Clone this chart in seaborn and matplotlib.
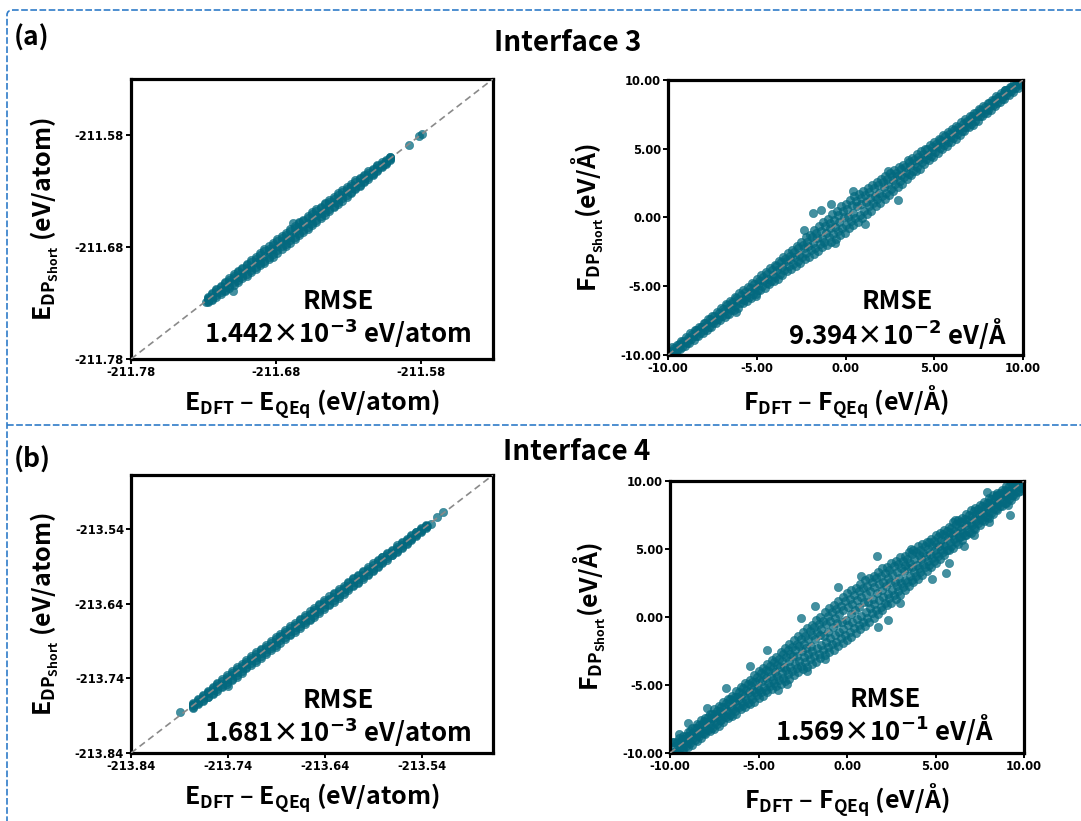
import numpy as np
import pandas as pd
import matplotlib
matplotlib.use("Agg")
import matplotlib.pyplot as plt
import seaborn as sns
from matplotlib.patches import FancyBboxPatch
from matplotlib.lines import Line2D

# ---------------- data ----------------
# Interface 3, energy (eV/atom): reference values and DP deviations (meV)
e3_x = [-211.727, -211.724, -211.721, -211.718, -211.715, -211.712, -211.709, -211.706, -211.703, -211.700,
        -211.697, -211.694, -211.691, -211.688, -211.685, -211.682, -211.679, -211.676, -211.673, -211.670,
        -211.667, -211.664, -211.661, -211.658, -211.655, -211.652, -211.649, -211.646, -211.643, -211.640,
        -211.637, -211.634, -211.631, -211.628, -211.625, -211.622, -211.619, -211.616, -211.613, -211.610,
        -211.607, -211.604, -211.601]
e3_dev_mid_meV = [0.5, -0.5, 1.0, 0.0, -1.0, 0.5, 1.0, -0.5, 0.0, 1.0, -0.5, 0.5, -1.0, 0.0, 1.0, 0.5, -0.5, 1.0, 0.0, -1.0,
                  0.5, 1.5, 0.0, -0.5, 1.0, 0.5, -1.0, 0.0, 1.0, 0.5, -0.5, 0.0, 1.0, 0.5, -0.5, 0.0, 0.5, 0.0, -0.5, 0.5,
                  0.0, 0.0, 0.5]
e3_dev_upin_meV = [1.5, 2.0, 2.5, 2.0, 3.0, 2.5, 3.0, 3.5, 3.0, 3.5, 4.0, 3.5, 4.0, 4.5, 3.5, 4.0, 4.5, 4.0, 3.5, 4.5,
                   4.0, 5.0, 4.0, 3.5, 4.5, 4.0, 3.5, 4.0, 3.5, 3.0, 3.5, 3.0, 3.0, 2.5, 3.0, 2.5, 2.0, 2.0, 1.5, 2.0,
                   1.5, 1.0, 1.0]
e3_dev_lowin_meV = [-1.5, -2.0, -2.0, -2.5, -3.0, -3.0, -2.5, -3.5, -3.0, -4.0, -3.5, -4.0, -3.5, -4.5, -4.0, -4.5, -4.0, -3.5, -4.5, -4.0,
                    -4.5, -3.5, -4.0, -4.5, -3.5, -4.0, -3.5, -3.0, -3.5, -3.0, -3.0, -2.5, -3.0, -2.5, -2.0, -2.5, -2.0, -1.5, -2.0, -1.5,
                    -1.0, -1.0, -0.5]
e3_dev_up_meV = [2.5, 3.0, 3.5, 3.5, 4.0, 4.0, 4.5, 5.0, 4.5, 5.0, 5.5, 5.0, 5.5, 6.0, 5.5, 6.0, 6.0, 5.5, 5.5, 6.0,
                 5.5, 6.5, 5.5, 5.5, 6.0, 5.5, 5.0, 5.5, 5.0, 5.0, 5.0, 4.5, 4.5, 4.0, 4.5, 4.0, 3.5, 3.5, 3.0, 3.0,
                 2.5, 2.0, 1.5]
e3_dev_low_meV = [-2.5, -3.0, -3.5, -4.0, -4.0, -4.5, -4.5, -5.0, -5.0, -5.5, -5.5, -6.0, -5.5, -6.0, -6.0, -6.5, -6.0, -5.5, -6.0, -6.0,
                  -6.0, -5.5, -6.0, -6.0, -5.5, -5.5, -5.0, -5.0, -5.0, -4.5, -4.5, -4.5, -4.0, -4.0, -3.5, -3.5, -3.0, -3.0, -2.5, -2.5,
                  -2.0, -1.5, -1.0]
e3_out_x = [-211.588, -211.581, -211.579, -211.7097, -211.6684, -211.728]
e3_out_y = [-211.5885, -211.5805, -211.5790, -211.7190, -211.6586, -211.7288]

# Interface 4, energy (eV/atom)
e4_x = [-213.776, -213.771, -213.766, -213.761, -213.756, -213.751, -213.746, -213.741, -213.736, -213.731,
        -213.726, -213.721, -213.716, -213.711, -213.706, -213.701, -213.696, -213.691, -213.686, -213.681,
        -213.676, -213.671, -213.666, -213.661, -213.656, -213.651, -213.646, -213.641, -213.636, -213.631,
        -213.626, -213.621, -213.616, -213.611, -213.606, -213.601, -213.596, -213.591, -213.586, -213.581,
        -213.576, -213.571, -213.566, -213.561, -213.556, -213.551, -213.546, -213.541, -213.536]
e4_dev_mid_meV = [0.5, 0.0, -0.5, 1.0, 0.0, 0.5, -1.0, 0.5, 1.0, 0.0, -0.5, 0.5, 1.0, -0.5, 0.0, 0.5, -1.0, 0.0, 1.0, 0.5,
                  -0.5, 0.0, 1.0, -0.5, 0.5, 0.0, -1.0, 0.5, 1.0, 0.0, -0.5, 0.5, 0.0, 1.0, -0.5, 0.0, 0.5, -0.5, 1.0, 0.0,
                  0.5, -0.5, 0.0, 0.5, 1.0, 0.0, -0.5, 0.5, 0.0]
e4_dev_upin_meV = [2.0, 2.5, 3.0, 2.5, 3.0, 3.5, 3.0, 3.5, 4.0, 3.5, 3.0, 3.5, 4.0, 3.5, 4.0, 3.5, 3.0, 4.0, 3.5, 4.0,
                   3.5, 3.0, 4.0, 3.5, 3.0, 3.5, 4.0, 3.5, 3.0, 4.0, 3.5, 3.0, 3.5, 4.0, 3.0, 3.5, 3.0, 3.5, 3.0, 3.5,
                   3.0, 2.5, 3.0, 2.5, 2.0, 2.5, 2.0, 1.5, 1.0]
e4_dev_lowin_meV = [-2.0, -2.5, -3.0, -3.5, -3.0, -3.5, -4.0, -3.5, -4.5, -4.0, -3.5, -3.0, -3.5, -4.0, -3.5, -3.0, -3.5, -4.0, -3.0, -3.5,
                    -4.0, -3.5, -3.0, -3.5, -4.0, -3.5, -3.0, -3.5, -4.0, -3.5, -3.0, -3.5, -3.0, -3.5, -4.0, -3.0, -3.5, -3.0, -3.5, -3.0,
                    -2.5, -3.0, -2.5, -2.0, -2.5, -2.0, -1.5, -1.0, -1.0]
e4_dev_up_meV = [3.0, 3.5, 4.0, 4.5, 5.0, 5.0, 5.5, 5.5, 6.0, 6.0, 5.5, 6.0, 6.5, 6.0, 5.5, 6.0, 6.5, 6.0, 5.5, 6.0,
                 6.5, 6.0, 5.5, 6.0, 6.5, 6.0, 5.5, 6.0, 6.0, 5.5, 6.0, 5.5, 6.0, 5.5, 5.0, 5.5, 5.0, 5.5, 5.0, 4.5,
                 4.5, 4.0, 4.5, 4.0, 3.5, 3.0, 3.0, 2.5, 2.0]
e4_dev_low_meV = [-3.0, -3.5, -4.5, -4.5, -5.0, -5.5, -5.5, -6.0, -6.0, -6.5, -6.0, -5.5, -6.0, -6.5, -6.0, -5.5, -6.0, -6.5, -6.0, -5.5,
                  -6.0, -6.5, -6.0, -5.5, -6.0, -6.5, -6.0, -5.5, -6.0, -6.0, -5.5, -6.0, -5.5, -5.5, -6.0, -5.0, -5.5, -5.0, -5.0, -4.5,
                  -4.5, -4.0, -4.0, -3.5, -3.5, -3.0, -2.5, -2.0, -1.5]
e4_out_x = [-213.7896, -213.7766, -213.519, -213.5252, -213.531, -213.535, -213.740]
e4_out_y = [-213.785, -213.7754, -213.5166, -213.5228, -213.533, -213.536, -213.7498]

# Interface 3, force (eV/Å): stations, per-row shifts and residuals (F_DP - F_ref)
f3_x = [-9.75, -9.25, -8.75, -8.25, -7.75, -7.25, -6.75, -6.25, -5.75, -5.25,
        -4.75, -4.25, -3.75, -3.25, -2.75, -2.25, -1.75, -1.25, -0.75, -0.25,
        0.25, 0.75, 1.25, 1.75, 2.25, 2.75, 3.25, 3.75, 4.25, 4.75,
        5.25, 5.75, 6.25, 6.75, 7.25, 7.75, 8.25, 8.75, 9.25, 9.75]
f3_shift = [0.0, 0.2, 0.1, 0.3, 0.4, 0.25, 0.45, 0.35, 0.05, 0.15]
f3_res_a = [0.05, -0.05, 0.1, 0.0, -0.1, 0.05, 0.1, -0.05, 0.0, 0.1, -0.1, 0.05, 0.15, -0.05, 0.1, 0.0, -0.15, 0.1, 0.05, -0.1,
            0.15, 0.0, -0.1, 0.1, 0.05, -0.05, 0.1, 0.0, -0.1, 0.05, 0.0, 0.1, -0.05, 0.05, 0.0, -0.05, 0.1, 0.0, 0.05, 0.0]
f3_res_b = [0.15, 0.2, 0.2, 0.15, 0.25, 0.2, 0.25, 0.3, 0.25, 0.3, 0.35, 0.3, 0.4, 0.35, 0.45, 0.4, 0.5, 0.55, 0.5, 0.6,
            0.55, 0.6, 0.5, 0.5, 0.45, 0.4, 0.35, 0.35, 0.3, 0.3, 0.3, 0.25, 0.25, 0.2, 0.25, 0.2, 0.2, 0.15, 0.15, 0.1]
f3_res_c = [-0.15, -0.15, -0.2, -0.2, -0.2, -0.25, -0.25, -0.3, -0.3, -0.3, -0.35, -0.35, -0.35, -0.4, -0.4, -0.45, -0.5, -0.5, -0.55, -0.6,
            -0.6, -0.55, -0.5, -0.5, -0.45, -0.4, -0.4, -0.35, -0.3, -0.3, -0.3, -0.25, -0.25, -0.25, -0.2, -0.2, -0.2, -0.15, -0.15, -0.1]
f3_res_d = [0.3, 0.25, 0.35, 0.3, 0.4, 0.35, 0.45, 0.45, 0.5, 0.5, 0.55, 0.6, 0.6, 0.7, 0.7, 0.8, 0.85, 0.95, 1.0, 1.05,
            1.0, 0.95, 0.9, 0.85, 0.75, 0.7, 0.6, 0.55, 0.55, 0.5, 0.45, 0.45, 0.4, 0.4, 0.35, 0.35, 0.3, 0.3, 0.25, 0.2]
f3_res_e = [-0.3, -0.3, -0.35, -0.35, -0.4, -0.4, -0.45, -0.5, -0.5, -0.55, -0.6, -0.6, -0.65, -0.7, -0.75, -0.8, -0.9, -0.95, -1.0, -1.05,
            -1.0, -1.0, -0.95, -0.9, -0.8, -0.7, -0.65, -0.6, -0.55, -0.55, -0.5, -0.45, -0.45, -0.4, -0.4, -0.35, -0.35, -0.3, -0.3, -0.25]
f3_res_a2 = [-0.05, 0.05, 0.0, 0.1, 0.0, -0.05, 0.0, 0.1, -0.1, 0.0, 0.05, -0.1, 0.0, 0.1, -0.1, 0.05, 0.1, -0.05, -0.1, 0.1,
             -0.05, 0.1, 0.05, -0.1, 0.0, 0.1, -0.1, 0.05, 0.0, -0.05, 0.1, -0.05, 0.0, 0.05, -0.05, 0.0, 0.05, -0.05, 0.0, 0.05]
f3_res_b2 = [0.2, 0.15, 0.2, 0.2, 0.2, 0.25, 0.25, 0.25, 0.3, 0.3, 0.3, 0.35, 0.35, 0.4, 0.4, 0.45, 0.45, 0.5, 0.55, 0.55,
             0.6, 0.55, 0.55, 0.45, 0.45, 0.4, 0.4, 0.3, 0.35, 0.25, 0.3, 0.25, 0.2, 0.25, 0.2, 0.2, 0.15, 0.2, 0.1, 0.15]
f3_res_c2 = [-0.1, -0.2, -0.15, -0.2, -0.25, -0.2, -0.3, -0.25, -0.3, -0.35, -0.3, -0.4, -0.4, -0.35, -0.45, -0.4, -0.5, -0.55, -0.5, -0.55,
             -0.55, -0.6, -0.45, -0.45, -0.5, -0.35, -0.35, -0.4, -0.3, -0.35, -0.25, -0.3, -0.2, -0.25, -0.25, -0.2, -0.15, -0.2, -0.1, -0.15]
f3_res_d2 = [0.25, 0.3, 0.3, 0.35, 0.35, 0.4, 0.4, 0.5, 0.45, 0.55, 0.5, 0.55, 0.65, 0.65, 0.75, 0.75, 0.9, 0.9, 0.95, 1.0,
             1.05, 0.9, 0.85, 0.8, 0.7, 0.65, 0.65, 0.6, 0.5, 0.5, 0.5, 0.4, 0.45, 0.35, 0.4, 0.3, 0.3, 0.25, 0.25, 0.2]
f3_res_e2 = [-0.25, -0.35, -0.3, -0.4, -0.35, -0.45, -0.45, -0.45, -0.55, -0.5, -0.55, -0.65, -0.6, -0.75, -0.7, -0.85, -0.85, -1.0, -0.95, -1.0,
             -1.05, -0.95, -0.9, -0.85, -0.75, -0.75, -0.6, -0.65, -0.55, -0.5, -0.5, -0.5, -0.4, -0.45, -0.35, -0.4, -0.3, -0.3, -0.25, -0.25]
f3_out_x = [-1.83, -1.36, -0.84, 0.42, -2.34, 2.96, 1.08, -0.61, 2.39, -5.02, -6.19, 8.97, -9.8]
f3_out_y = [0.32, 0.56, 1.00, 1.90, -0.90, 1.29, -0.49, -1.82, 3.35, -5.70, -6.84, 9.30, -9.7]

# Interface 4, force (eV/Å)
f4_x = f3_x
f4_shift = [0.0, 0.25, 0.15, 0.4, 0.05, 0.3, 0.2, 0.25, 0.0, 0.4, 0.15, 0.3, 0.05, 0.45]
f4_res_0 = [0.1, -0.1, 0.05, -0.05, 0.15, 0.0, -0.1, 0.1, 0.05, -0.15, 0.1, 0.0, -0.1, 0.15, 0.05, -0.1, 0.2, -0.05, 0.1, -0.15,
            0.05, 0.15, -0.1, 0.0, 0.1, -0.05, 0.15, -0.1, 0.05, 0.0, -0.1, 0.1, 0.0, -0.05, 0.1, 0.05, -0.1, 0.0, 0.1, -0.05]
f4_res_1 = [0.2, 0.25, 0.2, 0.3, 0.25, 0.3, 0.3, 0.35, 0.35, 0.4, 0.4, 0.45, 0.45, 0.5, 0.55, 0.55, 0.6, 0.65, 0.6, 0.7,
            0.65, 0.7, 0.6, 0.6, 0.55, 0.5, 0.5, 0.45, 0.4, 0.4, 0.35, 0.35, 0.35, 0.3, 0.3, 0.3, 0.25, 0.25, 0.2, 0.2]
f4_res_2 = [-0.2, -0.2, -0.25, -0.25, -0.3, -0.3, -0.3, -0.3, -0.35, -0.4, -0.4, -0.4, -0.45, -0.5, -0.5, -0.55, -0.6, -0.6, -0.65, -0.65,
            -0.7, -0.65, -0.6, -0.6, -0.55, -0.55, -0.5, -0.45, -0.45, -0.4, -0.35, -0.35, -0.35, -0.3, -0.3, -0.3, -0.25, -0.25, -0.25, -0.2]
f4_res_3 = [0.4, 0.35, 0.45, 0.45, 0.5, 0.5, 0.55, 0.6, 0.65, 0.7, 0.7, 0.8, 0.85, 0.9, 1.0, 1.05, 1.1, 1.15, 1.2, 1.25,
            1.2, 1.2, 1.15, 1.1, 1.05, 1.0, 0.9, 0.85, 0.8, 0.7, 0.7, 0.65, 0.6, 0.6, 0.55, 0.5, 0.5, 0.45, 0.4, 0.4]
f4_res_4 = [-0.4, -0.4, -0.4, -0.45, -0.5, -0.5, -0.55, -0.6, -0.65, -0.7, -0.7, -0.8, -0.85, -0.9, -0.95, -1.05, -1.1, -1.15, -1.2, -1.25,
            -1.25, -1.2, -1.15, -1.1, -1.05, -0.95, -0.9, -0.85, -0.8, -0.7, -0.7, -0.65, -0.6, -0.6, -0.55, -0.5, -0.5, -0.45, -0.45, -0.4]
f4_res_5 = [0.55, 0.5, 0.6, 0.65, 0.65, 0.7, 0.75, 0.8, 0.9, 0.95, 1.0, 1.1, 1.15, 1.25, 1.35, 1.45, 1.55, 1.6, 1.65, 1.7,
            1.7, 1.65, 1.6, 1.55, 1.45, 1.35, 1.25, 1.15, 1.1, 1.0, 0.95, 0.9, 0.85, 0.8, 0.75, 0.7, 0.7, 0.6, 0.6, 0.55]
f4_res_6 = [-0.55, -0.55, -0.6, -0.6, -0.7, -0.7, -0.75, -0.8, -0.9, -0.95, -1.0, -1.1, -1.2, -1.25, -1.35, -1.45, -1.5, -1.6, -1.65, -1.7,
            -1.7, -1.65, -1.6, -1.5, -1.45, -1.35, -1.25, -1.2, -1.1, -1.0, -0.95, -0.9, -0.85, -0.8, -0.75, -0.75, -0.65, -0.6, -0.6, -0.55]
f4_res_0b = [-0.05, 0.1, -0.1, 0.1, 0.0, -0.1, 0.15, 0.0, -0.1, 0.1, -0.05, 0.15, 0.05, -0.1, 0.0, 0.15, -0.1, 0.1, -0.05, 0.05,
             0.0, -0.1, 0.1, 0.05, -0.1, 0.15, 0.0, 0.1, -0.1, 0.05, 0.1, -0.05, 0.1, 0.0, -0.1, 0.0, 0.1, -0.05, 0.0, 0.1]
f4_res_1b = [0.25, 0.2, 0.3, 0.25, 0.3, 0.3, 0.35, 0.3, 0.4, 0.35, 0.45, 0.4, 0.5, 0.5, 0.5, 0.6, 0.55, 0.65, 0.7, 0.65,
             0.7, 0.65, 0.65, 0.55, 0.6, 0.55, 0.45, 0.5, 0.45, 0.35, 0.4, 0.3, 0.4, 0.35, 0.25, 0.35, 0.3, 0.2, 0.25, 0.2]
f4_res_2b = [-0.25, -0.2, -0.2, -0.3, -0.25, -0.35, -0.3, -0.35, -0.4, -0.35, -0.45, -0.45, -0.4, -0.5, -0.55, -0.5, -0.55, -0.65, -0.6, -0.7,
             -0.65, -0.7, -0.65, -0.55, -0.6, -0.5, -0.55, -0.5, -0.4, -0.45, -0.4, -0.3, -0.4, -0.35, -0.25, -0.35, -0.3, -0.2, -0.3, -0.25]
f4_res_3b = [0.35, 0.45, 0.4, 0.5, 0.45, 0.55, 0.5, 0.65, 0.6, 0.75, 0.75, 0.75, 0.9, 0.85, 0.95, 1.1, 1.05, 1.2, 1.15, 1.2,
             1.25, 1.15, 1.2, 1.05, 1.1, 0.95, 0.95, 0.8, 0.85, 0.75, 0.65, 0.7, 0.55, 0.65, 0.5, 0.55, 0.45, 0.5, 0.35, 0.45]
f4_res_4b = [-0.45, -0.35, -0.45, -0.4, -0.55, -0.45, -0.6, -0.55, -0.7, -0.65, -0.75, -0.75, -0.9, -0.85, -1.0, -1.0, -1.15, -1.1, -1.25, -1.2,
             -1.2, -1.25, -1.1, -1.15, -1.0, -1.0, -0.85, -0.9, -0.75, -0.75, -0.65, -0.7, -0.55, -0.65, -0.5, -0.55, -0.45, -0.5, -0.4, -0.45]
f4_res_5b = [0.6, 0.55, 0.65, 0.6, 0.7, 0.75, 0.7, 0.85, 0.85, 1.0, 1.05, 1.05, 1.2, 1.3, 1.4, 1.4, 1.5, 1.65, 1.7, 1.75,
             1.65, 1.7, 1.55, 1.6, 1.5, 1.4, 1.3, 1.2, 1.05, 1.05, 0.9, 0.95, 0.8, 0.85, 0.7, 0.75, 0.65, 0.65, 0.55, 0.6]
f4_res_6b = [-0.6, -0.5, -0.65, -0.65, -0.65, -0.75, -0.7, -0.85, -0.85, -1.0, -1.05, -1.05, -1.15, -1.3, -1.3, -1.4, -1.55, -1.55, -1.7, -1.65,
             -1.75, -1.6, -1.65, -1.55, -1.4, -1.4, -1.3, -1.15, -1.15, -1.05, -1.0, -0.85, -0.9, -0.75, -0.8, -0.7, -0.7, -0.6, -0.65, -0.5]
f4_out_x = [1.71, 0.79, -1.81, -2.60, -1.24, -2.28, -3.41, -6.84, -8.96, 1.77, 4.78, 5.57, 5.78, 6.10, 9.11, 7.90, 9.20,
            -4.5, -5.5, 3.0, 2.3, -0.5, 7.2, 8.5, 8.0, -9.5, -9.8, -9.9, -7.9, 6.6, 3.6, -3.9]
f4_out_y = [4.52, 3.00, 0.81, -0.10, -3.10, -4.00, -4.91, -5.23, -7.80, -0.71, 2.76, 3.20, 4.00, 7.10, 8.20, 9.19, 7.48,
            -2.4, -3.6, 1.0, -0.2, 2.2, 6.0, 9.0, 7.0, -8.6, -9.9, -9.2, -6.7, 5.2, 5.0, -5.4]

# axes ranges and ticks
e3_lim = [-211.78, -211.53]
e3_ticks = [-211.78, -211.68, -211.58]
e4_lim = [-213.84, -213.467]
e4_ticks = [-213.84, -213.74, -213.64, -213.54]
f_lim = [-10.0, 10.0]
f_ticks = [-10.0, -5.0, 0.0, 5.0, 10.0]

rmse_texts = ["1.442×10$^{\\mathsf{-3}}$ eV/atom", "9.394×10$^{\\mathsf{-2}}$ eV/Å",
              "1.681×10$^{\\mathsf{-3}}$ eV/atom", "1.569×10$^{\\mathsf{-1}}$ eV/Å"]
titles = ["Interface 3", "Interface 4"]
panel_tags = ["(a)", "(b)"]


def build_energy(x, rows_meV, ox, oy):
    xs = np.asarray(x, dtype=float)
    X = [xs for _ in rows_meV] + [np.asarray(ox, dtype=float)]
    Y = [xs + np.asarray(r) / 1000.0 for r in rows_meV] + [np.asarray(oy, dtype=float)]
    return pd.DataFrame({"ref": np.concatenate(X), "dp": np.concatenate(Y)})


def build_force(x, shifts, rows, ox, oy):
    xs = np.asarray(x, dtype=float)
    X, Y = [], []
    for sh, r in zip(shifts, rows):
        X.append(xs + sh)
        Y.append(xs + sh + np.asarray(r))
    X.append(np.asarray(ox, dtype=float))
    Y.append(np.asarray(oy, dtype=float))
    return pd.DataFrame({"ref": np.concatenate(X), "dp": np.concatenate(Y)})


df_e3 = build_energy(e3_x, [e3_dev_up_meV, e3_dev_low_meV, e3_dev_upin_meV, e3_dev_lowin_meV, e3_dev_mid_meV],
                     e3_out_x, e3_out_y)
df_e4 = build_energy(e4_x, [e4_dev_up_meV, e4_dev_low_meV, e4_dev_upin_meV, e4_dev_lowin_meV, e4_dev_mid_meV],
                     e4_out_x, e4_out_y)
df_f3 = build_force(f3_x, f3_shift,
                    [f3_res_d, f3_res_e, f3_res_b, f3_res_c, f3_res_a,
                     f3_res_d2, f3_res_e2, f3_res_b2, f3_res_c2, f3_res_a2],
                    f3_out_x, f3_out_y)
df_f4 = build_force(f4_x, f4_shift,
                    [f4_res_5, f4_res_6, f4_res_3, f4_res_4, f4_res_1, f4_res_2, f4_res_0,
                     f4_res_5b, f4_res_6b, f4_res_3b, f4_res_4b, f4_res_1b, f4_res_2b, f4_res_0b],
                    f4_out_x, f4_out_y)

# ---------------- style ----------------
sns.set_style("white")
TXT_FONT = ["Noto Sans CJK SC", "DejaVu Sans"]
plt.rcParams["font.family"] = TXT_FONT
plt.rcParams["text.color"] = "black"
plt.rcParams["axes.labelcolor"] = "black"
plt.rcParams["mathtext.fontset"] = "custom"
plt.rcParams["mathtext.rm"] = "Noto Sans CJK SC:bold"
plt.rcParams["mathtext.it"] = "Noto Sans CJK SC:bold"
plt.rcParams["mathtext.bf"] = "Noto Sans CJK SC:bold"
plt.rcParams["mathtext.sf"] = "DejaVu Sans:bold"

PT_COLOR = "#03697F"
LABEL_FS = 18
TICK_FS = 8.3
RMSE_FS = 18.5

fig = plt.figure(figsize=(10.81, 8.21), dpi=100)

W, H = 1081.0, 821.0


def add_ax(x0, y0, x1, y1):
    return fig.add_axes([x0 / W, 1 - y1 / H, (x1 - x0) / W, (y1 - y0) / H])


ax_e3 = add_ax(131, 79, 493, 359)
ax_f3 = add_ax(668, 80, 1023, 355)
ax_e4 = add_ax(131, 475, 493, 753)
ax_f4 = add_ax(670, 481, 1024, 753)

xlab_E = "E$_{\\mathrm{DFT}}$ – E$_{\\mathrm{QEq}}$ (eV/atom)"
ylab_E = "E$_{\\mathrm{DP_{Short}}}$ (eV/atom)"
xlab_F = "F$_{\\mathrm{DFT}}$ – F$_{\\mathrm{QEq}}$ (eV/Å)"
ylab_F = "F$_{\\mathrm{DP_{Short}}}$(eV/Å)"

panels = [
    (ax_e3, df_e3, e3_lim, e3_ticks, xlab_E, ylab_E, rmse_texts[0], 0.572, 0.204, 0.093),
    (ax_f3, df_f3, f_lim, f_ticks, xlab_F, ylab_F, rmse_texts[1], 0.645, 0.193, 0.080),
    (ax_e4, df_e4, e4_lim, e4_ticks, xlab_E, ylab_E, rmse_texts[2], 0.572, 0.190, 0.076),
    (ax_f4, df_f4, f_lim, f_ticks, xlab_F, ylab_F, rmse_texts[3], 0.607, 0.195, 0.085),
]

for ax, df, lim, ticks, xl, yl, rtxt, tx, ty1, ty2 in panels:
    sns.scatterplot(data=df, x="ref", y="dp", ax=ax, color=PT_COLOR, alpha=0.74, s=36,
                    edgecolor=PT_COLOR, linewidth=0.4, zorder=2)
    ax.plot(lim, lim, ls=(0, (4, 2.5)), color="#8a8a8a", lw=1.2, zorder=3)
    ax.set_xlim(lim)
    ax.set_ylim(lim)
    ax.set_xticks(ticks)
    ax.set_yticks(ticks)
    ax.set_xticklabels([f"{t:.2f}" for t in ticks], fontfamily="DejaVu Sans", fontweight="bold", fontsize=TICK_FS)
    ax.set_yticklabels([f"{t:.2f}" for t in ticks], fontfamily="DejaVu Sans", fontweight="bold", fontsize=TICK_FS)
    ax.tick_params(axis="both", which="major", direction="out", length=3.5, width=1.4, pad=1.5,
                   bottom=True, left=True, colors="black")
    for sp in ax.spines.values():
        sp.set_linewidth(2.3)
        sp.set_color("black")
    ax.set_xlabel(xl, fontsize=LABEL_FS, fontweight="bold", labelpad=6)
    ax.set_ylabel(yl, fontsize=LABEL_FS, fontweight="bold", labelpad=10)
    ax.text(tx, ty1, "RMSE", transform=ax.transAxes, ha="center", va="center",
            fontsize=RMSE_FS, fontweight="bold")
    ax.text(tx, ty2, rtxt, transform=ax.transAxes, ha="center", va="center",
            fontsize=RMSE_FS, fontweight="bold", family=TXT_FONT)

# titles and panel tags
fig.text(568 / W, 1 - 43 / H, titles[0], ha="center", va="center", fontsize=20, fontweight="bold")
fig.text(577 / W, 1 - 452 / H, titles[1], ha="center", va="center", fontsize=20, fontweight="bold")
fig.text(14 / W, 1 - 38 / H, panel_tags[0], ha="left", va="center", fontsize=19, fontweight="bold")
fig.text(14 / W, 1 - 460 / H, panel_tags[1], ha="left", va="center", fontsize=19, fontweight="bold")

# dashed frame
BLUE = "#2f7bc8"
frame = FancyBboxPatch((7 / W, -0.1), 1.2, (1 - 10 / H) + 0.1,
                       boxstyle="round,pad=0,rounding_size=0.006",
                       transform=fig.transFigure, fill=False, edgecolor=BLUE,
                       linewidth=1.2, linestyle=(0, (4, 1.5)), clip_on=False)
fig.add_artist(frame)
fig.add_artist(Line2D([7 / W, 1.0], [1 - 425 / H, 1 - 425 / H], transform=fig.transFigure,
                      color=BLUE, lw=1.2, ls=(0, (4, 1.5))))

fig.savefig("out.png", dpi=100, facecolor="white")
